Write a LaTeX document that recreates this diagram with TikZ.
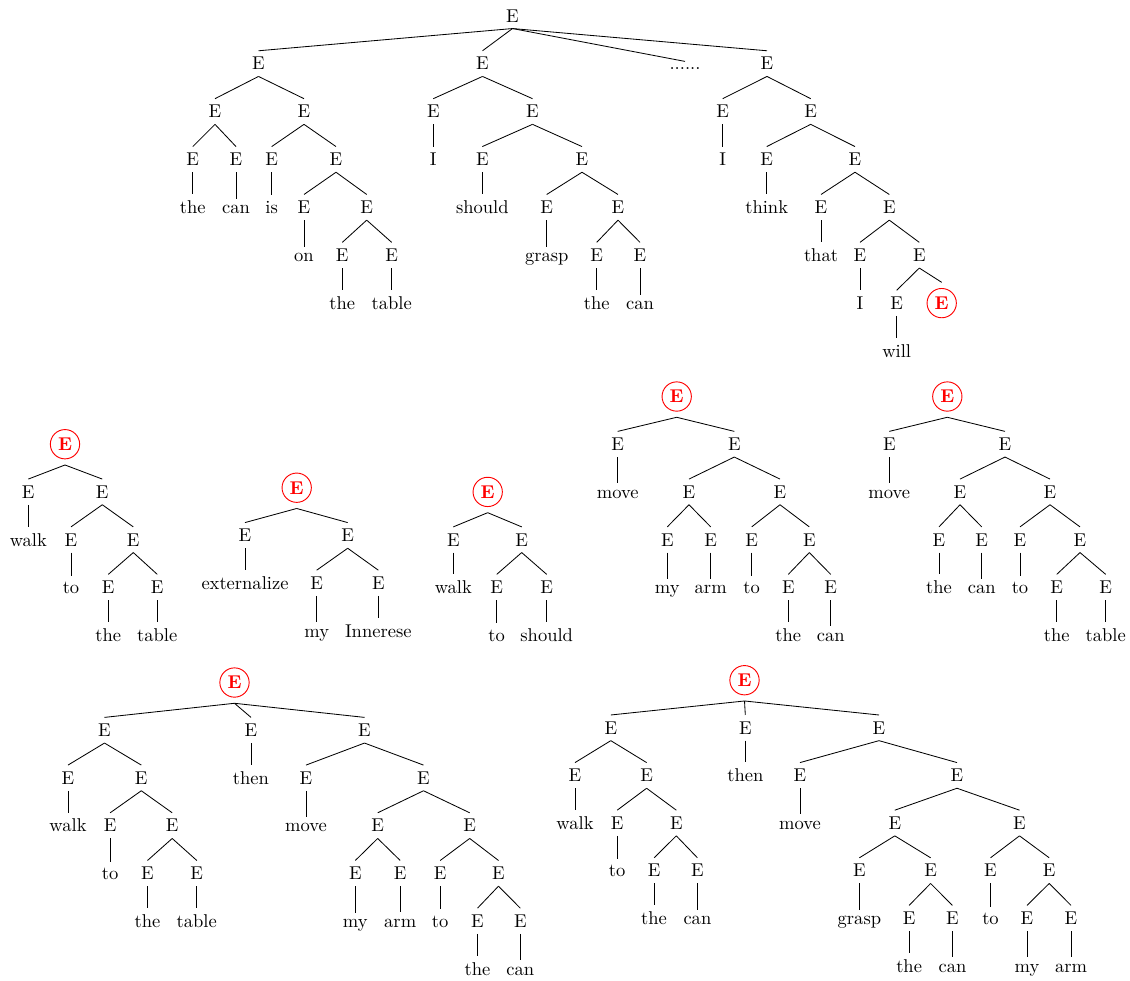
\documentclass[tikz,border=0pt]{standalone}
\tikzset{
  lbl/.style={anchor=base, inner sep=3.33pt},
  rnode/.style={anchor=base, circle, draw=red, text=red, font=\bfseries, inner sep=2pt, outer sep=3.3pt, line width=0.5pt},
  br/.style={line width=0.45pt}
}
\newcommand\treeedges[1]{\foreach \p/\c in {#1} {\draw[br] (\p.south) -- (\c.north);}}
\begin{document}
\begin{tikzpicture}[x=0.54pt,y=-0.54pt]
\useasboundingbox (0,0) rectangle (1130,980);
% ---------------- top tree ----------------
\node[lbl] (a) at (512.5,22) {E};
\node[lbl] (a1) at (258.5,69.9) {E};
\node[lbl] (a2) at (482.5,69.9) {E};
\node[lbl] (a3) at (685,69.9) {......};
\node[lbl] (a4) at (767,69.9) {E};
\node[lbl] (a11) at (215,117.8) {E};
\node[lbl] (a12) at (304,117.8) {E};
\node[lbl] (a21) at (433.3,117.8) {E};
\node[lbl] (a22) at (532.5,117.8) {E};
\node[lbl] (a41) at (722.7,117.8) {E};
\node[lbl] (a42) at (810.7,117.8) {E};
\node[lbl] (a111) at (192.8,165.7) {E};
\node[lbl] (a112) at (236,165.7) {E};
\node[lbl] (a121) at (271.7,165.7) {E};
\node[lbl] (a122) at (336,165.7) {E};
\node[lbl] (a211) at (433.3,165.7) {I};
\node[lbl] (a221) at (482.3,165.7) {E};
\node[lbl] (a222) at (582,165.7) {E};
\node[lbl] (a411) at (722.7,165.7) {I};
\node[lbl] (a421) at (766.7,165.7) {E};
\node[lbl] (a422) at (855,165.7) {E};
\node[lbl] (a1111) at (192.8,213.6) {the};
\node[lbl] (a1121) at (236,213.6) {can};
\node[lbl] (a1211) at (271.7,213.6) {is};
\node[lbl] (a1221) at (304,213.6) {E};
\node[lbl] (a1222) at (366.7,213.6) {E};
\node[lbl] (a2211) at (482.3,213.6) {should};
\node[lbl] (a2221) at (546.7,213.6) {E};
\node[lbl] (a2222) at (618,213.6) {E};
\node[lbl] (a4211) at (766.7,213.6) {think};
\node[lbl] (a4221) at (821,213.6) {E};
\node[lbl] (a4222) at (889.3,213.6) {E};
\node[lbl] (a12211) at (304,261.5) {on};
\node[lbl] (a12221) at (342.3,261.5) {E};
\node[lbl] (a12222) at (391.7,261.5) {E};
\node[lbl] (a22211) at (546.7,261.5) {grasp};
\node[lbl] (a22221) at (596.7,261.5) {E};
\node[lbl] (a22222) at (640,261.5) {E};
\node[lbl] (a42211) at (821,261.5) {that};
\node[lbl] (a42221) at (860,261.5) {E};
\node[lbl] (a42222) at (919.3,261.5) {E};
\node[lbl] (a122211) at (342.3,309.4) {the};
\node[lbl] (a122221) at (391.7,309.4) {table};
\node[lbl] (a222211) at (596.7,309.4) {the};
\node[lbl] (a222221) at (640,309.4) {can};
\node[lbl] (a422211) at (860,309.4) {I};
\node[lbl] (a422221) at (896.7,309.4) {E};
\node[rnode] (a422222) at (941.7,309.4) {E};
\node[lbl] (a4222211) at (896.7,357.3) {will};
\treeedges{a/a1,a/a2,a/a3,a/a4,a1/a11,a1/a12,a2/a21,a2/a22,a4/a41,a4/a42,
a11/a111,a11/a112,a12/a121,a12/a122,a21/a211,a22/a221,a22/a222,a41/a411,a42/a421,a42/a422,
a111/a1111,a112/a1121,a121/a1211,a122/a1221,a122/a1222,a221/a2211,a222/a2221,a222/a2222,
a421/a4211,a422/a4221,a422/a4222,a1221/a12211,a1222/a12221,a1222/a12222,a2221/a22211,
a2222/a22221,a2222/a22222,a4221/a42211,a4222/a42221,a4222/a42222,a12221/a122211,a12222/a122221,
a22221/a222211,a22222/a222221,a42221/a422211,a42222/a422221,a42222/a422222,a422221/a4222211}
% ---------------- tree A ----------------
\node[rnode] (b) at (65,450.5) {E};
\node[lbl] (b1) at (28.3,498.2) {E};
\node[lbl] (b2) at (102.3,498.2) {E};
\node[lbl] (b11) at (28.3,546) {walk};
\node[lbl] (b21) at (71,546) {E};
\node[lbl] (b22) at (133.3,546) {E};
\node[lbl] (b211) at (71,593.5) {to};
\node[lbl] (b221) at (108.3,593.5) {E};
\node[lbl] (b222) at (157.3,593.5) {E};
\node[lbl] (b2211) at (108.3,641) {the};
\node[lbl] (b2221) at (157.3,641) {table};
\treeedges{b/b1,b/b2,b1/b11,b2/b21,b2/b22,b21/b211,b22/b221,b22/b222,b221/b2211,b222/b2221}
% ---------------- tree B ----------------
\node[rnode] (c) at (296.7,494) {E};
\node[lbl] (c1) at (245,541.7) {E};
\node[lbl] (c2) at (347.7,541.7) {E};
\node[lbl] (c11) at (245,589.3) {externalize};
\node[lbl] (c21) at (316.7,589.3) {E};
\node[lbl] (c22) at (378.3,589.3) {E};
\node[lbl] (c211) at (316.7,637) {my};
\node[lbl] (c221) at (378.3,637) {Innerese};
\treeedges{c/c1,c/c2,c1/c11,c2/c21,c2/c22,c21/c211,c22/c221}
% ---------------- tree C ----------------
\node[rnode] (d) at (487.7,498.2) {E};
\node[lbl] (d1) at (453.3,546) {E};
\node[lbl] (d2) at (521.7,546) {E};
\node[lbl] (d11) at (453.3,593.5) {walk};
\node[lbl] (d21) at (496.7,593.5) {E};
\node[lbl] (d22) at (546.7,593.5) {E};
\node[lbl] (d211) at (496.7,641) {to};
\node[lbl] (d221) at (546.7,641) {should};
\treeedges{d/d1,d/d2,d1/d11,d2/d21,d2/d22,d21/d211,d22/d221}
% ---------------- tree D ----------------
\node[rnode] (f) at (676.7,402.8) {E};
\node[lbl] (f1) at (617.7,450.5) {E};
\node[lbl] (f2) at (734.3,450.5) {E};
\node[lbl] (f11) at (617.7,498.2) {move};
\node[lbl] (f21) at (689,498.2) {E};
\node[lbl] (f22) at (780,498.2) {E};
\node[lbl] (f211) at (667.3,546) {E};
\node[lbl] (f212) at (710.7,546) {E};
\node[lbl] (f221) at (751.7,546) {E};
\node[lbl] (f222) at (809.3,546) {E};
\node[lbl] (f2111) at (667.3,593.5) {my};
\node[lbl] (f2121) at (710.7,593.5) {arm};
\node[lbl] (f2211) at (751.7,593.5) {to};
\node[lbl] (f2221) at (788.3,593.5) {E};
\node[lbl] (f2222) at (830.7,593.5) {E};
\node[lbl] (f22211) at (788.3,641) {the};
\node[lbl] (f22221) at (830.7,641) {can};
\treeedges{f/f1,f/f2,f1/f11,f2/f21,f2/f22,f21/f211,f21/f212,f22/f221,f22/f222,
f211/f2111,f212/f2121,f221/f2211,f222/f2221,f222/f2222,f2221/f22211,f2222/f22221}
% ---------------- tree E ----------------
\node[rnode] (g) at (947.3,402.8) {E};
\node[lbl] (g1) at (889.3,450.5) {E};
\node[lbl] (g2) at (1005,450.5) {E};
\node[lbl] (g11) at (889.3,498.2) {move};
\node[lbl] (g21) at (960,498.2) {E};
\node[lbl] (g22) at (1050,498.2) {E};
\node[lbl] (g211) at (939,546) {E};
\node[lbl] (g212) at (981.7,546) {E};
\node[lbl] (g221) at (1020,546) {E};
\node[lbl] (g222) at (1080,546) {E};
\node[lbl] (g2111) at (939,593.5) {the};
\node[lbl] (g2121) at (981.7,593.5) {can};
\node[lbl] (g2211) at (1020,593.5) {to};
\node[lbl] (g2221) at (1056.7,593.5) {E};
\node[lbl] (g2222) at (1105.7,593.5) {E};
\node[lbl] (g22211) at (1056.7,641) {the};
\node[lbl] (g22221) at (1105.7,641) {table};
\treeedges{g/g1,g/g2,g1/g11,g2/g21,g2/g22,g21/g211,g21/g212,g22/g221,g22/g222,
g211/g2111,g212/g2121,g221/g2211,g222/g2221,g222/g2222,g2221/g22211,g2222/g22221}
% ---------------- tree F ----------------
\node[rnode] (h) at (234.5,688.8) {E};
\node[lbl] (h1) at (104.5,736.5) {E};
\node[lbl] (h2) at (251,736.5) {E};
\node[lbl] (h3) at (364.5,736.5) {E};
\node[lbl] (h11) at (68,784.2) {E};
\node[lbl] (h12) at (141.3,784.2) {E};
\node[lbl] (h21) at (251,784.2) {then};
\node[lbl] (h31) at (306,784.2) {E};
\node[lbl] (h32) at (423.5,784.2) {E};
\node[lbl] (h111) at (68,831.9) {walk};
\node[lbl] (h121) at (110.2,831.9) {E};
\node[lbl] (h122) at (172.2,831.9) {E};
\node[lbl] (h311) at (306,831.9) {move};
\node[lbl] (h321) at (377.7,831.9) {E};
\node[lbl] (h322) at (469.7,831.9) {E};
\node[lbl] (h1211) at (110.2,879.6) {to};
\node[lbl] (h1221) at (147.5,879.6) {E};
\node[lbl] (h1222) at (196.8,879.6) {E};
\node[lbl] (h3211) at (355.3,879.6) {E};
\node[lbl] (h3212) at (400.2,879.6) {E};
\node[lbl] (h3221) at (440.2,879.6) {E};
\node[lbl] (h3222) at (498.5,879.6) {E};
\node[lbl] (h12211) at (147.5,927.3) {the};
\node[lbl] (h12221) at (196.8,927.3) {table};
\node[lbl] (h32111) at (355.3,927.3) {my};
\node[lbl] (h32121) at (400.2,927.3) {arm};
\node[lbl] (h32211) at (440.2,927.3) {to};
\node[lbl] (h32221) at (477.5,927.3) {E};
\node[lbl] (h32222) at (520.3,927.3) {E};
\node[lbl] (h322211) at (477.5,975) {the};
\node[lbl] (h322221) at (520.3,975) {can};
\treeedges{h/h1,h/h2,h/h3,h1/h11,h1/h12,h2/h21,h3/h31,h3/h32,h11/h111,h12/h121,h12/h122,
h31/h311,h32/h321,h32/h322,h121/h1211,h122/h1221,h122/h1222,h321/h3211,h321/h3212,
h322/h3221,h322/h3222,h1221/h12211,h1222/h12221,h3211/h32111,h3212/h32121,h3221/h32211,
h3222/h32221,h3222/h32222,h32221/h322211,h32222/h322221}
% ---------------- tree G ----------------
\node[rnode] (k) at (744.5,686.5) {E};
\node[lbl] (k1) at (610.8,734.1) {E};
\node[lbl] (k2) at (745.3,734.1) {E};
\node[lbl] (k3) at (879,734.1) {E};
\node[lbl] (k11) at (575,781.7) {E};
\node[lbl] (k12) at (646.6,781.7) {E};
\node[lbl] (k21) at (745.3,781.7) {then};
\node[lbl] (k31) at (800,781.7) {E};
\node[lbl] (k32) at (957,781.7) {E};
\node[lbl] (k111) at (575,829.3) {walk};
\node[lbl] (k121) at (617.2,829.3) {E};
\node[lbl] (k122) at (676.3,829.3) {E};
\node[lbl] (k311) at (800,829.3) {move};
\node[lbl] (k321) at (894.8,829.3) {E};
\node[lbl] (k322) at (1019.5,829.3) {E};
\node[lbl] (k1211) at (617.2,876.9) {to};
\node[lbl] (k1221) at (654.1,876.9) {E};
\node[lbl] (k1222) at (697.4,876.9) {E};
\node[lbl] (k3211) at (859.4,876.9) {E};
\node[lbl] (k3212) at (930.6,876.9) {E};
\node[lbl] (k3221) at (990.5,876.9) {E};
\node[lbl] (k3222) at (1049.2,876.9) {E};
\node[lbl] (k12211) at (654.1,924.5) {the};
\node[lbl] (k12221) at (697.4,924.5) {can};
\node[lbl] (k32111) at (859.4,924.5) {grasp};
\node[lbl] (k32121) at (909.1,924.5) {E};
\node[lbl] (k32122) at (952.4,924.5) {E};
\node[lbl] (k32211) at (990.5,924.5) {to};
\node[lbl] (k32221) at (1027,924.5) {E};
\node[lbl] (k32222) at (1071,924.5) {E};
\node[lbl] (k321211) at (909.1,972.1) {the};
\node[lbl] (k321221) at (952.4,972.1) {can};
\node[lbl] (k322211) at (1027,972.1) {my};
\node[lbl] (k322221) at (1071,972.1) {arm};
\treeedges{k/k1,k/k2,k/k3,k1/k11,k1/k12,k2/k21,k3/k31,k3/k32,k11/k111,k12/k121,k12/k122,
k31/k311,k32/k321,k32/k322,k121/k1211,k122/k1221,k122/k1222,k321/k3211,k321/k3212,
k322/k3221,k322/k3222,k1221/k12211,k1222/k12221,k3211/k32111,k3212/k32121,k3212/k32122,
k3221/k32211,k3222/k32221,k3222/k32222,k32121/k321211,k32122/k321221,k32221/k322211,k32222/k322221}
\end{tikzpicture}
\end{document}
